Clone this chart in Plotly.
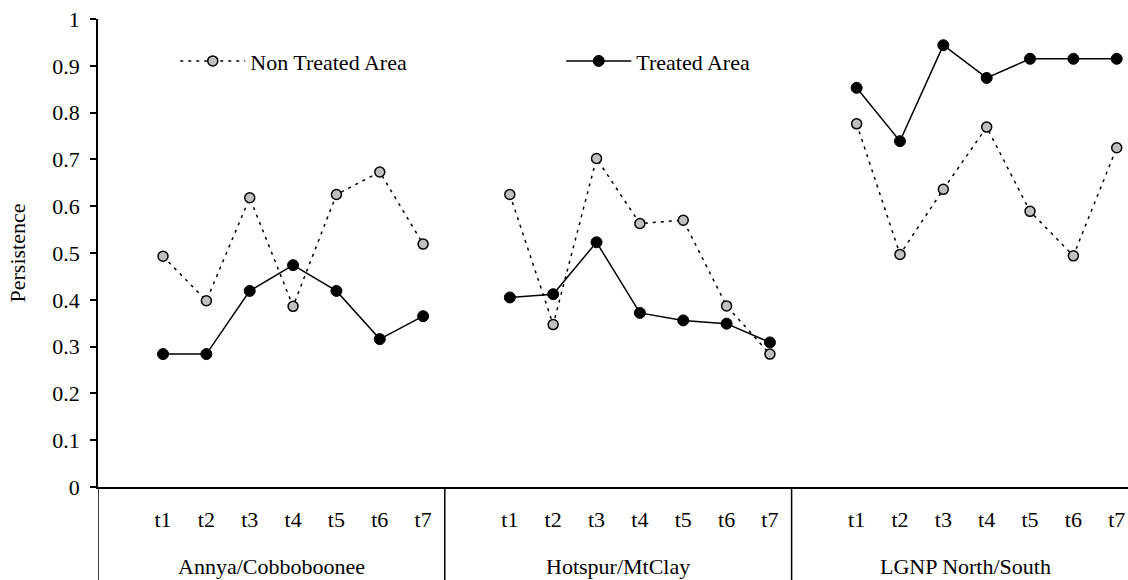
import plotly.graph_objects as go

groups = ["Annya/Cobboboonee", "Hotspur/MtClay", "LGNP North/South"]
periods = ["t1", "t2", "t3", "t4", "t5", "t6", "t7"]

non_treated = [
    [0.493, 0.398, 0.618, 0.386, 0.625, 0.673, 0.519],
    [0.625, 0.347, 0.702, 0.563, 0.570, 0.387, 0.284],
    [0.776, 0.497, 0.636, 0.769, 0.589, 0.494, 0.725],
]
treated = [
    [0.284, 0.284, 0.419, 0.474, 0.419, 0.316, 0.365],
    [0.405, 0.412, 0.523, 0.372, 0.356, 0.349, 0.309],
    [0.853, 0.739, 0.944, 0.874, 0.915, 0.915, 0.915],
]

SLOTS = len(periods) + 1  # one blank slot at the start of each group


def pos(g, k):
    return g * SLOTS + k + 1.5


xs, yn, yt = [], [], []
for g in range(len(groups)):
    for k in range(len(periods)):
        xs.append(pos(g, k))
        yn.append(non_treated[g][k])
        yt.append(treated[g][k])
    xs.append(None)
    yn.append(None)
    yt.append(None)

FONT = "Liberation Serif, Times New Roman, serif"
FS = 22

fig = go.Figure()
fig.add_trace(go.Scatter(
    x=xs, y=yn, mode="lines+markers", name="Non Treated Area",
    line=dict(color="black", width=1.5, dash="3px,5px"),
    marker=dict(size=10, color="#c0c0c0", line=dict(color="black", width=1.5)),
    connectgaps=False,
))
fig.add_trace(go.Scatter(
    x=xs, y=yt, mode="lines+markers", name="Treated Area",
    line=dict(color="black", width=1.5),
    marker=dict(size=11, color="black", line=dict(color="black", width=1)),
    connectgaps=False,
))

tickvals = [pos(g, k) for g in range(len(groups)) for k in range(len(periods))]
ticktext = [periods[k] for g in range(len(groups)) for k in range(len(periods))]

# separators and group labels
for g in range(len(groups)):
    fig.add_shape(type="line", xref="x", yref="paper", x0=g * SLOTS, x1=g * SLOTS,
                  y0=0, y1=-0.21, line=dict(color="black", width=1.5))
    fig.add_annotation(x=g * SLOTS + SLOTS / 2, y=-0.1696, xref="x", yref="paper",
                       text=groups[g], showarrow=False, yanchor="middle",
                       font=dict(family=FONT, size=FS, color="black"))

fig.update_layout(
    width=1128, height=580,
    margin=dict(l=98, r=0, t=19, b=93),
    plot_bgcolor="white", paper_bgcolor="white",
    font=dict(family=FONT, size=FS, color="black"),
    showlegend=True,
    legend=dict(orientation="h", x=0.075, y=0.91, xanchor="left", yanchor="middle",
                itemwidth=65, entrywidth=306, entrywidthmode="pixels",
                bgcolor="rgba(0,0,0,0)", font=dict(family=FONT, size=FS)),
)
fig.update_xaxes(
    range=[0, (1128 - 98) / 43.35], showgrid=False, zeroline=False,
    showline=True, linecolor="black", linewidth=1.5,
    tickmode="array", tickvals=tickvals, ticktext=ticktext,
    ticks="", ticklabelstandoff=12,
)
fig.update_yaxes(
    range=[0, 1], dtick=0.1, tick0=0, showgrid=False, zeroline=False,
    showline=True, linecolor="black", linewidth=1.5,
    ticks="outside", ticklen=6, tickwidth=1.5, tickcolor="black",
    ticklabelstandoff=6,
    title=dict(text="Persistence", standoff=21, font=dict(family=FONT, size=FS)),
)

fig.write_html("out.html")
